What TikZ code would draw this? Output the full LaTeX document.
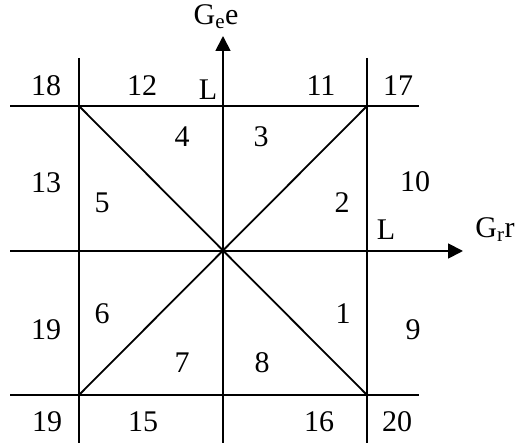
\documentclass[tikz,border=0pt]{standalone}
\usepackage{fontspec}
\setmainfont{Liberation Serif}
\usetikzlibrary{arrows.meta}
\begin{document}
\begin{tikzpicture}[x=1pt,y=1pt,
  ln/.style={line width=1.8pt,line cap=butt},
  ax/.style={line width=1.8pt,-{Triangle[length=15pt,width=15pt]}},
  lbl/.style={inner sep=0pt,font=\fontsize{30}{30}\selectfont},
  lblb/.style={inner sep=0pt,anchor=base,font=\fontsize{30}{30}\selectfont}]
\useasboundingbox (0,0) rectangle (515,447);
% grid coordinates
\coordinate (c) at (223,196);
\coordinate (tl) at (79,341);
\coordinate (tr) at (367,341);
\coordinate (bl) at (79,52);
\coordinate (br) at (367,52);
\coordinate (hTl) at (10,341);  \coordinate (hTr) at (419,341);
\coordinate (hBl) at (10,52);   \coordinate (hBr) at (419,52);
\coordinate (hMl) at (10,196);  \coordinate (hMr) at (463,196);
\coordinate (vLt) at (79,389);  \coordinate (vLb) at (79,4);
\coordinate (vRt) at (367,389); \coordinate (vRb) at (367,4);
\coordinate (vMb) at (223,4);   \coordinate (vMt) at (223,411);
% lines
\draw[ln] (hTl) -- (hTr);
\draw[ln] (hBl) -- (hBr);
\draw[ln] (vLt) -- (vLb);
\draw[ln] (vRt) -- (vRb);
\draw[ln] (tl) -- (br);
\draw[ln] (tr) -- (bl);
\draw[ax] (hMl) -- (hMr);
\draw[ax] (vMb) -- (vMt);
% axis labels
\node[lblb] (ge) at (216,422) {G\textsubscript{e}e};
\node[lblb] (gr) at (495,209) {G\textsubscript{r}r};
\node[lblb] (Lt) at (208,347) {L};
\node[lblb] (Lr) at (386,207) {L};
% region numbers
\node[lbl] (n18) at (46,361) {18};
\node[lbl] (n12) at (142,361) {12};
\node[lbl] (n11) at (321,361) {11};
\node[lbl] (n17) at (398,361) {17};
\node[lbl] (n4) at (182,310) {4};
\node[lbl] (n3) at (261,310) {3};
\node[lbl] (n13) at (46,264) {13};
\node[lbl] (n5) at (102,244) {5};
\node[lbl] (n2) at (342,244) {2};
\node[lbl] (n10) at (415,265) {10};
\node[lbl] (n19a) at (46,117) {19};
\node[lbl] (n6) at (102,133) {6};
\node[lbl] (n1) at (343,133) {1};
\node[lbl] (n9) at (413,117) {9};
\node[lbl] (n7) at (182,84) {7};
\node[lbl] (n8) at (262,84) {8};
\node[lbl] (n19b) at (47,25) {19};
\node[lbl] (n15) at (143,25) {15};
\node[lbl] (n16) at (319,25) {16};
\node[lbl] (n20) at (397,25) {20};
\end{tikzpicture}
\end{document}
